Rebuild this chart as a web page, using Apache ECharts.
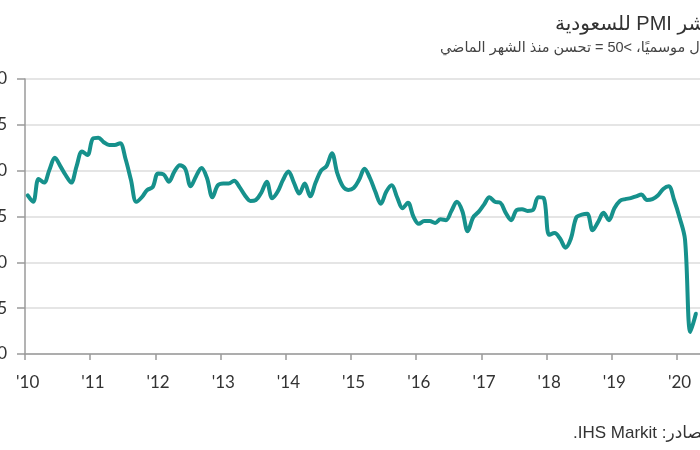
<!DOCTYPE html>
<html><head><meta charset="utf-8">
<script src="https://cdn.jsdelivr.net/npm/echarts@6/dist/echarts.min.js"></script>
<style>html,body{margin:0;padding:0;background:#fff}#c{width:700px;height:450px}</style>
</head><body><div id="c"></div>
<script>
// Monthly Saudi Arabia PMI, seasonally adjusted (Jan 2010 – Apr 2020)
const years = ['2010','2011','2012','2013','2014','2015','2016','2017','2018','2019','2020'];
const pmi2010 = [57.3, 56.6, 59.1, 58.7, 60.1, 61.4, 60.5, 59.5, 58.7, 60.5, 62.1, 61.7];
const pmi2011 = [63.5, 63.6, 63.1, 62.8, 62.8, 63.0, 61.3, 59.0, 56.6, 57.1, 57.9, 58.2];
const pmi2012 = [59.7, 59.6, 58.8, 59.9, 60.6, 60.2, 58.3, 59.4, 60.3, 59.2, 57.1, 58.4];
const pmi2013 = [58.6, 58.6, 58.9, 58.2, 57.3, 56.7, 56.8, 57.6, 58.8, 57.0, 57.7, 59.0];
const pmi2014 = [59.9, 58.7, 57.5, 58.6, 57.2, 58.7, 60.0, 60.5, 61.9, 59.7, 58.3, 57.9];
const pmi2015 = [58.1, 59.0, 60.2, 59.2, 57.7, 56.4, 57.7, 58.4, 57.1, 55.9, 56.5, 55.0];
const pmi2016 = [54.2, 54.5, 54.5, 54.3, 54.7, 54.6, 55.6, 56.6, 55.6, 53.4, 54.9, 55.5];
const pmi2017 = [56.3, 57.1, 56.6, 56.5, 55.4, 54.6, 55.7, 55.8, 55.6, 55.7, 57.1, 57.0];
const pmi2018 = [53.0, 53.2, 52.6, 51.6, 52.6, 54.9, 55.2, 55.3, 53.5, 54.4, 55.4, 54.6];
const pmi2019 = [55.9, 56.7, 56.9, 57.0, 57.2, 57.4, 56.8, 56.9, 57.3, 58.0, 58.3, 56.8];
const pmi2020 = [54.9, 52.5, 42.4, 44.4];
const yTicks = {min: 40, max: 70, interval: 5};

const titleText = 'مؤشر PMI للسعودية';
const subtitleText = 'معدل موسميًا، >50 = تحسن منذ الشهر الماضي';
const sourceText = 'المصادر: IHS Markit.';

const pmiAll = [].concat(pmi2010, pmi2011, pmi2012, pmi2013, pmi2014, pmi2015,
  pmi2016, pmi2017, pmi2018, pmi2019, pmi2020);
const mm = ['01','02','03','04','05','06','07','08','09','10','11','12'];
const cats = [];
years.forEach(y => mm.forEach(m => cats.push(y + '-' + m)));
cats.length = 125; // up to May 2020 (empty last band)

const rtl = s => '\u202B' + s + '\u202C';
const chart = echarts.init(document.getElementById('c'));
const isJan = i => i % 12 === 0;
chart.setOption({
  animation: false,
  backgroundColor: '#fff',
  grid: {left: 25, right: -4, top: 79, bottom: 96, containLabel: false, outerBoundsMode: 'none'},
  xAxis: {
    type: 'category', data: cats, boundaryGap: true,
    axisLine: {lineStyle: {color: '#9a9a9a', width: 1.5}},
    axisTick: {show: true, interval: isJan, length: 6, lineStyle: {color: '#9a9a9a', width: 1.5}},
    axisLabel: {interval: isJan, margin: 20, fontSize: 17, color: '#333', fontFamily: 'Lato',
      formatter: v => "'" + v.slice(2, 4)},
    splitLine: {show: false}
  },
  yAxis: {
    type: 'value', min: yTicks.min, max: yTicks.max, interval: yTicks.interval,
    axisLine: {show: true, lineStyle: {color: '#9a9a9a', width: 1.5}},
    axisTick: {show: true, length: 8, lineStyle: {color: '#9a9a9a', width: 1.5}},
    axisLabel: {margin: 18, fontSize: 17, color: '#333', fontFamily: 'Lato'},
    splitLine: {lineStyle: {color: '#dcdcdc', width: 1.5}}
  },
  series: [{
    type: 'line', data: pmiAll, showSymbol: false, smooth: 0.35,
    lineStyle: {color: '#16918c', width: 4, cap: 'round', join: 'round'}
  }],
  graphic: [
    {type: 'text', x: 555, y: 24, style: {text: rtl(titleText), fill: '#333',
      font: '20px "Liberation Sans", "DejaVu Sans", sans-serif', textAlign: 'left', textVerticalAlign: 'middle'}},
    {type: 'text', x: 440, y: 48, style: {text: rtl(subtitleText), fill: '#444',
      font: '14.5px "Liberation Sans", "DejaVu Sans", sans-serif', textAlign: 'left', textVerticalAlign: 'middle'}},
    {type: 'text', x: 573, y: 433, style: {text: rtl(sourceText), fill: '#333',
      font: '17px "Liberation Sans", "DejaVu Sans", sans-serif', textAlign: 'left', textVerticalAlign: 'middle'}}
  ]
});
</script></body></html>
